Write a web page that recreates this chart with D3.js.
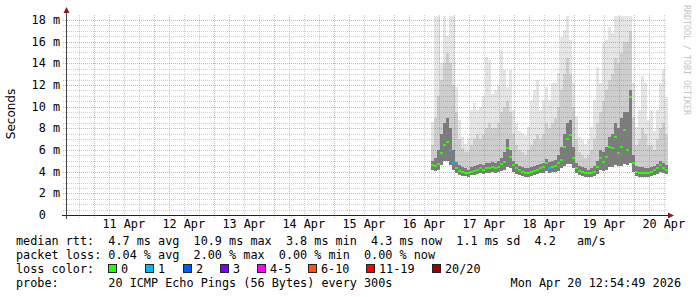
<!DOCTYPE html>
<meta charset="utf-8">
<style>
body { margin: 0; background: #fff; }
svg { display: block; }
.mono { font-family: "DejaVu Sans Mono", monospace; font-size: 11.8px; fill: #000; white-space: pre; }
</style>
<body>
<script src="https://d3js.org/d3.v7.min.js"></script>
<script>
var width = 697, height = 297;
var plotLeft = 66, plotRight = 666, plotTop = 15, plotBottom = 215;

// graph window: ten days ending at the time stamp
var startTime = Date.UTC(2026, 3, 10, 12, 54, 49),
    endTime = Date.UTC(2026, 3, 20, 12, 54, 49);

// samples every 72 minutes, first one on 16 Apr 15:00
var sampleStart = Date.UTC(2026, 3, 16, 15, 0, 0),
    sampleStep = 72 * 60 * 1000;

// values in ms
var median = [4.6, 4.5, 4.7, 5.7, 6.5, 6.75, 6.0, 4.8, 4.3, 4.1,
  4.0, 3.9, 3.85, 4.0, 4.1, 4.2, 4.35, 4.15, 4.3, 4.3,
  4.4, 4.3, 4.45, 4.7, 4.9, 6.2, 5.4, 4.6, 4.3, 4.15,
  4.0, 3.9, 3.9, 4.0, 4.1, 4.15, 4.3, 4.4, 4.8, 4.3,
  4.45, 4.5, 4.8, 5.1, 6.3, 7.0, 7.4, 5.3, 4.3, 4.1,
  4.0, 3.9, 3.85, 3.9, 4.0, 4.4, 5.3, 4.9, 5.4, 6.3,
  6.2, 7.2, 5.7, 6.3, 7.8, 6.0, 10.9, 4.8, 4.0, 3.9,
  3.9, 3.85, 3.85, 4.0, 4.15, 4.3, 4.6, 4.3, 4.15];

// index into lossColors
var loss = [0, 0, 0, 0, 0, 0, 1, 1, 0, 0,
  0, 0, 0, 0, 0, 0, 0, 0, 0, 0,
  0, 0, 0, 0, 0, 0, 0, 0, 0, 0,
  0, 0, 0, 0, 0, 0, 0, 0, 0, 1,
  0, 0, 0, 0, 0, 0, 0, 0, 0, 0,
  0, 0, 0, 0, 0, 0, 0, 0, 0, 0,
  0, 0, 0, 0, 0, 0, 0, 0, 0, 0,
  0, 0, 0, 0, 0, 0, 0, 0, 0];

var pingLow = [4.2, 4.1, 4.2, 4.6, 5.0, 5.0, 4.6, 4.2, 3.9, 3.7,
  3.6, 3.6, 3.55, 3.65, 3.7, 3.8, 3.9, 3.8, 3.9, 3.9,
  3.95, 3.9, 4.0, 4.1, 4.2, 4.4, 4.3, 4.0, 3.8, 3.7,
  3.6, 3.55, 3.55, 3.6, 3.7, 3.75, 3.85, 3.9, 4.1, 3.9,
  4.0, 4.0, 4.1, 4.3, 4.5, 4.7, 4.7, 4.3, 3.9, 3.7,
  3.6, 3.55, 3.55, 3.55, 3.6, 3.8, 4.2, 4.1, 4.2, 4.4,
  4.4, 4.6, 4.5, 4.5, 4.7, 4.6, 4.8, 4.0, 3.6, 3.55,
  3.55, 3.5, 3.5, 3.6, 3.7, 3.8, 4.0, 3.9, 3.8];

var pingDense = [5.0, 5.3, 6.0, 7.5, 8.5, 9.0, 8.0, 6.0, 4.9, 4.6,
  4.4, 4.3, 4.2, 4.4, 4.5, 4.6, 4.7, 4.6, 4.8, 4.8,
  4.9, 4.8, 5.0, 5.3, 5.8, 7.0, 6.0, 5.0, 4.7, 4.5,
  4.4, 4.3, 4.3, 4.4, 4.5, 4.6, 4.7, 4.8, 5.2, 4.9,
  5.0, 5.1, 5.5, 6.3, 7.5, 8.5, 8.8, 6.3, 4.8, 4.5,
  4.4, 4.3, 4.2, 4.3, 4.5, 5.0, 6.0, 5.8, 6.3, 7.2,
  7.5, 8.5, 8.0, 9.0, 9.5, 9.5, 11.5, 5.5, 4.5, 4.4,
  4.4, 4.3, 4.3, 4.4, 4.5, 4.7, 5.0, 4.8, 4.6];

var pingUpper = [6.5, 9.0, 11.0, 12.5, 14.0, 15.0, 14.0, 12.0, 9.5, 7.0,
  6.2, 5.8, 5.8, 6.5, 7.0, 7.5, 7.0, 7.5, 8.0, 8.5,
  8.0, 8.0, 8.5, 9.5, 10.0, 10.5, 9.5, 7.5, 6.5, 6.0,
  5.8, 5.5, 6.0, 6.5, 7.0, 7.5, 7.0, 7.5, 8.5, 8.0,
  8.5, 9.0, 10.0, 11.5, 13.0, 14.5, 13.0, 10.0, 7.0, 5.8,
  5.5, 5.3, 5.5, 6.0, 7.0, 8.5, 9.5, 10.5, 11.5, 12.5,
  13.0, 14.5, 14.0, 15.0, 16.0, 16.0, 17.0, 9.0, 6.5, 7.0,
  8.0, 7.5, 6.5, 6.5, 6.0, 7.0, 8.0, 8.5, 7.5];

var pingHigh = [8.6, 18.4, 18.4, 14.0, 18.4, 16.5, 18.4, 18.4, 11.8, 8.8,
  7.2, 6.6, 7.1, 9.7, 10.3, 9.7, 10.0, 11.0, 14.6, 14.3,
  11.2, 11.5, 12.0, 15.2, 13.4, 11.8, 13.4, 9.7, 8.5, 7.8,
  7.6, 7.4, 8.1, 10.5, 11.5, 12.5, 9.7, 10.6, 11.8, 10.6,
  12.2, 12.2, 13.1, 16.4, 17.1, 18.4, 16.2, 12.2, 9.1, 7.2,
  6.9, 6.6, 7.0, 8.1, 10.6, 13.7, 12.2, 15.9, 16.2, 17.4,
  16.8, 18.4, 18.4, 18.4, 18.4, 18.4, 18.4, 12.2, 8.1, 9.7,
  12.8, 12.2, 8.8, 9.7, 7.8, 9.7, 12.2, 13.4, 10.9];

var yTicks = [0, 2, 4, 6, 8, 10, 12, 14, 16, 18];
var lossLabels = ["0", "1", "2", "3", "4-5", "6-10", "11-19", "20/20"];
var lossColors = ["#26ff00", "#00b8ff", "#0059ff", "#7e00ff", "#ff00ff", "#ff5500", "#ff0000", "#a10000"];

var legendLines = [
  "median rtt:  4.7 ms avg  10.9 ms max  3.8 ms min  4.3 ms now  1.1 ms sd  4.2   am/s",
  "packet loss: 0.04 % avg  2.00 % max  0.00 % min  0.00 % now",
  "loss color:",
  "probe:       20 ICMP Echo Pings (56 Bytes) every 300s"
];
var stamp = "Mon Apr 20 12:54:49 2026";

var charW = 7.1;

var x = d3.scaleUtc().domain([startTime, endTime]).range([plotLeft, plotRight]);
var y = d3.scaleLinear().domain([0, 200 / (195 / 18)]).range([plotBottom, plotTop]);

var svg = d3.select("body").append("svg")
    .attr("width", width)
    .attr("height", height);

svg.append("rect").attr("width", width).attr("height", height).attr("fill", "#fff");

var times = median.map(function(d, i) { return sampleStart + i * sampleStep; });
function colX(i) { return Math.round(x(times[i])); }
function colW(i) { return Math.round(x(times[i] + sampleStep)) - Math.round(x(times[i])); }

// smoke
var smoke = svg.append("g").attr("shape-rendering", "crispEdges");
var bands = [
  {hi: pingHigh, color: "#e5e5e5"},
  {hi: pingUpper, color: "#cdcdcd"},
  {hi: pingDense, color: "#7c7c7c"}
];
bands.forEach(function(b) {
  smoke.selectAll(null)
      .data(median)
    .enter().append("rect")
      .attr("x", function(d, i) { return colX(i); })
      .attr("width", function(d, i) { return colW(i); })
      .attr("y", function(d, i) { return y(b.hi[i]); })
      .attr("height", function(d, i) { return y(pingLow[i]) - y(b.hi[i]); })
      .attr("fill", b.color);
});

// grid
var minorColor = "rgba(130,130,130,0.4)", majorColor = "rgba(225,60,60,0.45)";
var grid = svg.append("g").attr("shape-rendering", "crispEdges").attr("stroke-dasharray", "1,1");
var minorY = d3.range(1, 37).map(function(d) { return d / 2; }).filter(function(d) { return d % 2 !== 0; });
grid.selectAll(null).data(minorY).enter().append("line")
    .attr("x1", plotLeft - 3).attr("x2", plotRight)
    .attr("y1", function(d) { return Math.round(y(d)) + 0.5; })
    .attr("y2", function(d) { return Math.round(y(d)) + 0.5; })
    .attr("stroke", minorColor);

var minorX = d3.utcHour.every(6).range(new Date(startTime), new Date(endTime))
    .filter(function(d) { return d.getUTCHours() !== 0; });
grid.selectAll(null).data(minorX).enter().append("line")
    .attr("x1", function(d) { return Math.round(x(d)) + 0.5; })
    .attr("x2", function(d) { return Math.round(x(d)) + 0.5; })
    .attr("y1", plotTop).attr("y2", plotBottom + 3)
    .attr("stroke", minorColor);

grid.selectAll(null).data(yTicks.slice(1)).enter().append("line")
    .attr("x1", plotLeft - 3).attr("x2", plotRight)
    .attr("y1", function(d) { return Math.round(y(d)) + 0.5; })
    .attr("y2", function(d) { return Math.round(y(d)) + 0.5; })
    .attr("stroke", majorColor);

var days = d3.utcDay.range(new Date(startTime), new Date(endTime));
grid.selectAll(null).data(days).enter().append("line")
    .attr("x1", function(d) { return Math.round(x(d)) + 0.5; })
    .attr("x2", function(d) { return Math.round(x(d)) + 0.5; })
    .attr("y1", plotTop).attr("y2", plotBottom + 3)
    .attr("stroke", majorColor);

// median, coloured by loss
svg.append("g").selectAll("line")
    .data(median)
  .enter().append("line")
    .attr("x1", function(d, i) { return colX(i); })
    .attr("x2", function(d, i) { return colX(i) + colW(i); })
    .attr("y1", function(d) { return Math.round(y(d)); })
    .attr("y2", function(d) { return Math.round(y(d)); })
    .attr("stroke", function(d, i) { return lossColors[loss[i]]; })
    .attr("stroke-width", 2)
    .attr("shape-rendering", "crispEdges");

// axes
var axis = svg.append("g").attr("shape-rendering", "crispEdges");
axis.append("line").attr("x1", plotLeft - 4).attr("x2", plotRight + 3)
    .attr("y1", plotBottom + 0.5).attr("y2", plotBottom + 0.5).attr("stroke", "#222");
axis.append("line").attr("x1", plotLeft + 0.5).attr("x2", plotLeft + 0.5)
    .attr("y1", plotBottom + 4).attr("y2", plotTop - 4).attr("stroke", "#444");
svg.append("path").attr("d", "M" + (plotRight + 2) + "," + (plotBottom - 2.5) + "L" + (plotRight + 8) + "," + (plotBottom + 0.5) + "L" + (plotRight + 2) + "," + (plotBottom + 3.5) + "Z")
    .attr("fill", "#8b1a1a");
svg.append("path").attr("d", "M" + (plotLeft - 2.5) + "," + (plotTop - 2) + "L" + (plotLeft + 0.5) + "," + (plotTop - 8) + "L" + (plotLeft + 3.5) + "," + (plotTop - 2) + "Z")
    .attr("fill", "#8b1a1a");

// y labels
svg.append("g").selectAll("text")
    .data(yTicks)
  .enter().append("text")
    .attr("class", "mono")
    .attr("x", 60)
    .attr("y", function(d) { return y(d) + 4; })
    .attr("text-anchor", "end")
    .text(function(d) { return d === 0 ? "0  " : d + " m"; });

// x labels at noon
var noons = days.map(function(d) { return d3.utcHour.offset(d, 12); })
    .filter(function(d) { return +d <= endTime; });
svg.append("g").selectAll("text")
    .data(noons)
  .enter().append("text")
    .attr("class", "mono")
    .attr("x", function(d) { return x(d); })
    .attr("y", 228)
    .attr("text-anchor", "middle")
    .text(d3.utcFormat("%d %b"));

svg.append("text")
    .attr("transform", "translate(15,114) rotate(-90)")
    .attr("text-anchor", "middle")
    .style("font-family", "'DejaVu Sans', sans-serif")
    .style("font-size", "12px")
    .text("Seconds");

svg.append("text")
    .attr("transform", "translate(684,5) rotate(90)")
    .style("font-family", "'DejaVu Sans Mono', monospace")
    .style("font-size", "8.3px")
    .attr("fill", "#c4c4c4")
    .text("RRDTOOL / TOBI OETIKER");

// legend
var baseY = [245, 259, 273, 287];
svg.append("g").selectAll("text")
    .data(legendLines)
  .enter().append("text")
    .attr("class", "mono")
    .attr("x", 16)
    .attr("y", function(d, i) { return baseY[i]; })
    .text(function(d) { return d; });

svg.append("text").attr("class", "mono")
    .attr("x", 681).attr("y", baseY[3])
    .attr("text-anchor", "end")
    .text(stamp);

var lx = 16 + 13 * charW, pos = [];
lossLabels.forEach(function(l) { pos.push(lx); lx += 13 + l.length * charW + 17; });
var lg = svg.append("g").selectAll("g")
    .data(lossLabels)
  .enter().append("g")
    .attr("transform", function(d, i) { return "translate(" + Math.round(pos[i]) + ",0)"; });
lg.append("rect")
    .attr("x", 0.5).attr("y", 264.5)
    .attr("width", 8).attr("height", 8)
    .attr("fill", function(d, i) { return lossColors[i]; })
    .attr("stroke", "#222")
    .attr("shape-rendering", "crispEdges");
lg.append("text")
    .attr("class", "mono")
    .attr("x", 13)
    .attr("y", baseY[2])
    .text(function(d) { return d; });
</script>
